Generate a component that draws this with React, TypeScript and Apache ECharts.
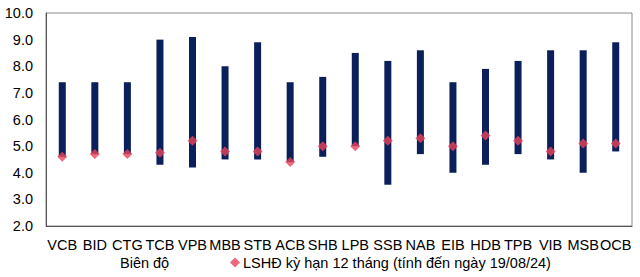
import React, { useEffect, useRef } from "react";
import * as echarts from "echarts";

const categories = ["VCB", "BID", "CTG", "TCB", "VPB", "MBB", "STB", "ACB", "SHB", "LPB", "SSB", "NAB", "EIB", "HDB", "TPB", "VIB", "MSB", "OCB"];
const lowValues = [4.6, 4.7, 4.7, 4.3, 4.2, 4.5, 4.5, 4.4, 4.6, 5.0, 3.55, 4.7, 4.0, 4.3, 4.7, 4.5, 4.0, 4.8];
const highValues = [7.4, 7.4, 7.4, 9.0, 9.1, 8.0, 8.9, 7.4, 7.6, 8.5, 8.2, 8.6, 7.4, 7.9, 8.2, 8.6, 8.6, 8.9];
const rateValues = [4.6, 4.7, 4.7, 4.75, 5.2, 4.8, 4.8, 4.4, 5.0, 5.0, 5.2, 5.3, 5.0, 5.4, 5.2, 4.8, 5.1, 5.1];
const yTicks = { min: 2, max: 10, interval: 1 };
const rangeName = "Biên độ";
const rateName = "LSHĐ kỳ hạn 12 tháng (tính đến ngày 19/08/24)";

export default function App() {
  const ref = useRef<HTMLDivElement>(null);
  useEffect(() => {
    document.body.style.margin = "0";
    if (!ref.current) return;
    const chart = echarts.init(ref.current, null, { renderer: "svg" });
    const font = "Liberation Sans, Arial, sans-serif";
    chart.setOption({
      animation: false,
      textStyle: { fontFamily: font },
      grid: { left: 46, right: 8, top: 13, bottom: 51, show: true, borderColor: "#8c8c8c", borderWidth: 1 },
      legend: [
        {
          data: [{ name: rangeName, icon: "none" }],
          left: 100,
          top: 250,
          itemWidth: 10,
          itemGap: 4,
          textStyle: { fontFamily: font, fontSize: 14.5, color: "#000" },
          selectedMode: false,
        },
        {
          data: [{ name: rateName, icon: "diamond" }],
          left: 225,
          top: 250,
          itemWidth: 10,
          itemHeight: 10,
          itemGap: 3,
          textStyle: { fontFamily: font, fontSize: 14.5, color: "#000", padding: [0, 0, 0, -2] },
          selectedMode: false,
        },
      ],
      xAxis: {
        type: "category",
        data: categories,
        axisLine: { show: true, lineStyle: { color: "#555", width: 1 } },
        axisTick: { show: false },
        axisLabel: { interval: 0, fontSize: 14.5, color: "#000", margin: 11, fontFamily: font },
      },
      yAxis: {
        type: "value",
        min: yTicks.min,
        max: yTicks.max,
        interval: yTicks.interval,
        splitLine: { show: false },
        axisLine: { show: true, lineStyle: { color: "#555", width: 1 } },
        axisTick: { show: false },
        axisLabel: {
          fontSize: 14.5,
          color: "#000",
          margin: 13,
          fontFamily: font,
          formatter: (v: number) => v.toFixed(1),
        },
      },
      series: [
        {
          name: "base",
          type: "bar",
          stack: "r",
          data: lowValues,
          itemStyle: { color: "transparent" },
          barWidth: 7,
          silent: true,
        },
        {
          name: rangeName,
          type: "bar",
          stack: "r",
          data: highValues.map((h, i) => +(h - lowValues[i]).toFixed(3)),
          itemStyle: { color: "#0b1f5a" },
          barWidth: 7,
        },
        {
          name: rateName,
          type: "scatter",
          data: rateValues,
          symbol: "diamond",
          symbolSize: 10,
          itemStyle: { color: "#e8435a" },
          z: 5,
        },
      ],
    });
    return () => chart.dispose();
  }, []);
  return <div ref={ref} style={{ width: 640, height: 277 }} />;
}
